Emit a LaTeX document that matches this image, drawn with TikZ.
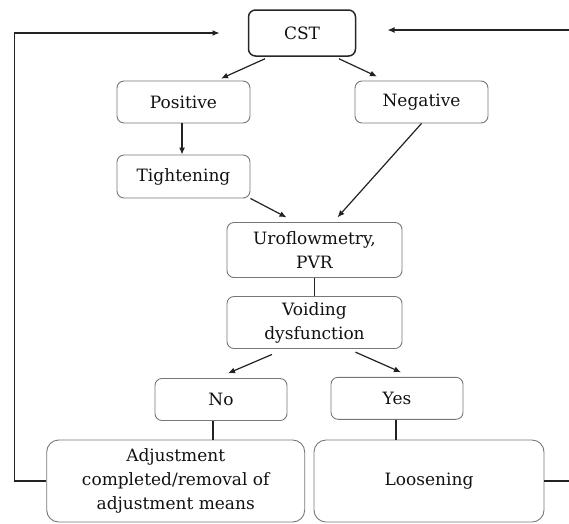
\documentclass[tikz,border=0pt]{standalone}
\usepackage{fontspec}
\setmainfont{DejaVu Serif}
\usetikzlibrary{arrows.meta,calc}
\definecolor{boxgray}{HTML}{777777}
\definecolor{textc}{HTML}{111111}
\definecolor{arrc}{HTML}{222222}
\begin{document}
\begin{tikzpicture}[x=1pt,y=1pt,
 box/.style={draw=boxgray, line width=0.9pt, rounded corners=7pt, align=center,
   font=\fontsize{17}{24}\selectfont, inner sep=0pt, text=textc},
 bigbox/.style={box, rounded corners=12pt},
 arr/.style={-{Latex[length=7pt,width=6pt]}, line width=1.2pt, draw=arrc},
 ln/.style={line width=1.2pt, draw=arrc}]
\useasboundingbox (0,0) rectangle (569,-523);
\node[box, draw=black!85, line width=1.5pt, minimum width=107, minimum height=46] (cst) at (302,-33) {CST};
\node[box, minimum width=133, minimum height=42] (pos) at (183.5,-102) {Positive};
\node[box, minimum width=133, minimum height=42] (neg) at (421.5,-102) {Negative};
\node[box, minimum width=133, minimum height=43] (tight) at (183.5,-176.5) {Tightening};
\node[box, minimum width=175, minimum height=55] (uro) at (314.5,-250) {Uroflowmetry,\\PVR};
\node[box, minimum width=175, minimum height=52] (void) at (314.5,-322.5) {Voiding\\dysfunction};
\node[box, minimum width=132, minimum height=42] (no) at (221,-399.5) {No};
\node[box, minimum width=132, minimum height=42] (yes) at (397,-398.3) {Yes};
\node[bigbox, minimum width=258, minimum height=82] (adj) at (175.7,-481) {Adjustment\\completed/removal of\\adjustment means};
\node[bigbox, minimum width=230, minimum height=82] (loos) at (429,-481) {Loosening};

\draw[arr] ([shift={(-37,-2)}]cst.south) -- ([shift={(37.5,2)}]pos.north);
\draw[arr] ([shift={(37,-2)}]cst.south) -- ([shift={(-44.5,4)}]neg.north);
\draw[arr] ([xshift=-1.5]pos.south) -- ([xshift=-1.5]tight.north);
\draw[arr] (tight.south east) -- ([shift={(-28,4.7)}]uro.north);
\draw[arr] (neg.south) -- ([shift={(23,4.7)}]uro.north);
\draw[ln] (uro.south) -- (void.north);
\draw[arr] ([shift={(-42.5,-5.5)}]void.south) -- ([shift={(7,4.8)}]no.north);
\draw[arr] ([shift={(41,-3.2)}]void.south) -- ([shift={(4,4.6)}]yes.north);
\draw[ln] ([xshift=-8]no.south) -- ([xshift=-8]no.south |- adj.north);
\draw[ln] ([xshift=-1]yes.south) -- ([xshift=-1]yes.south |- loos.north);

\coordinate (lc) at (14.5,-481);
\coordinate (lt) at (219.5,-33);
\draw[arr] (adj.west) -- (lc) |- (lt);
\coordinate (re) at (569,-481);
\draw[ln] (loos.east) -- (re);
\coordinate (rs) at (569,-30);
\coordinate (rt) at (387.5,-30);
\draw[arr] (rs) -- (rt);
\end{tikzpicture}
\end{document}
